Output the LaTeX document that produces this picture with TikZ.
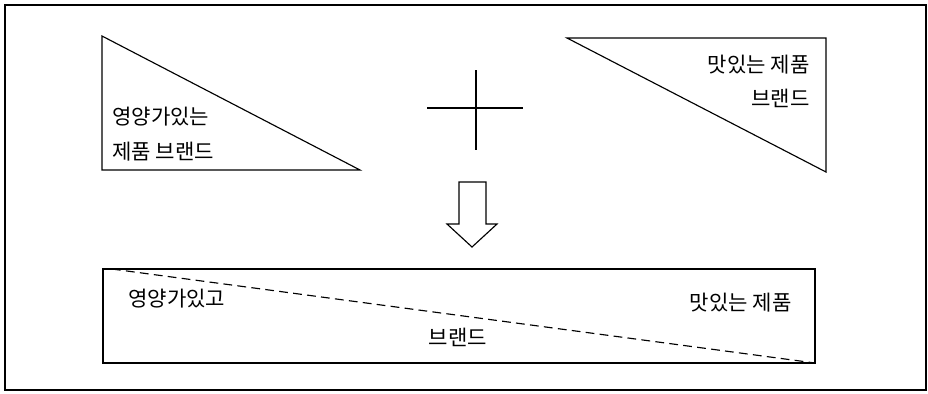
\documentclass[tikz,border=0pt]{standalone}
\usepackage{fontspec}
\newfontfamily\kofont{Noto Sans CJK KR}
\usepackage{tikz}
\usetikzlibrary{positioning,calc}

\tikzset{
  lbl/.style={font=\kofont\fontsize{12}{14}\selectfont, inner sep=0pt},
  outline/.style={line width=0.65pt},
}

\begin{document}
\begin{tikzpicture}[x=0.02cm, y=-0.02cm]
  \useasboundingbox (0,0) rectangle (928,393);
  % Outer frame
  \draw[line width=0.8pt] (5,5) rectangle (926,390);

  % Triangle 1: nutritious brand
  \draw[outline] (102,36) -- (102,170) -- (360,170) -- cycle;
  \node[lbl, anchor=west] (nutriA) at (112,117) {영양가있는};
  \node[lbl, anchor=west] (nutriB) at (112,152) {제품 브랜드};

  % Plus sign
  \coordinate (plusC) at (476,108);
  \draw[outline] ($(plusC)+(-49,0)$) -- ($(plusC)+(47,0)$);
  \draw[outline] ($(plusC)+(0,-38)$) -- ($(plusC)+(0,42)$);

  % Triangle 2: tasty brand
  \draw[outline] (567,38) -- (826,38) -- (826,172) -- cycle;
  \node[lbl, anchor=east] (tastyA) at (810,65) {맛있는 제품};
  \node[lbl, anchor=east] (tastyB) at (810,98) {브랜드};

  % Block arrow down
  \draw[outline] (459,182) -- (486,182) -- (486,224) -- (497,224) -- (472,247)
    -- (447,224) -- (459,224) -- cycle;

  % Combined brand box
  \draw[outline] (103,269) rectangle (815,363);
  \draw[outline, dash pattern=on 5pt off 3pt] (112,269) -- (815,363);
  \node[lbl, anchor=west] (bothA) at (128,299) {영양가있고};
  \node[lbl, anchor=east] (bothB) at (792,303) {맛있는 제품};
  \node[lbl] (bothC) at (458,337) {브랜드};
\end{tikzpicture}
\end{document}
